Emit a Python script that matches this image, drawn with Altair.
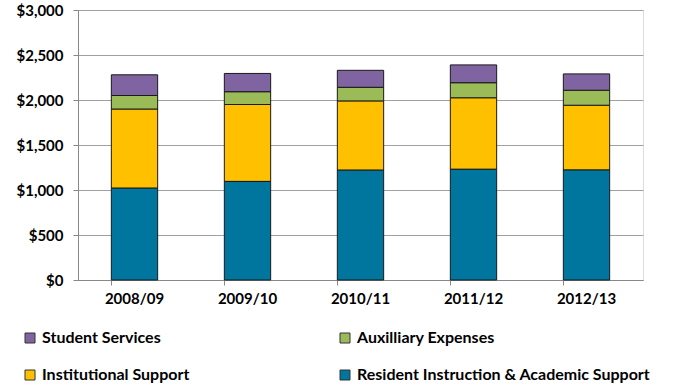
import altair as alt
import pandas as pd

years = ["2008/09", "2009/10", "2010/11", "2011/12", "2012/13"]
series = ["Student Services", "Institutional Support", "Auxilliary Expenses",
          "Resident Instruction & Academic Support"]
student_services = [230, 205, 190, 200, 183]
auxilliary_expenses = [150, 140, 150, 165, 165]
institutional_support = [880, 855, 770, 795, 720]
resident_instruction = [1020, 1095, 1220, 1230, 1222]
colors = ["#8064A2", "#FFC000", "#9BBB59", "#00759E"]
stack_rank = [3, 1, 2, 0]
y_ticks = [0, 500, 1000, 1500, 2000, 2500, 3000]

values = [student_services, institutional_support, auxilliary_expenses, resident_instruction]
rows = []
for s, vals, rank in zip(series, values, stack_rank):
    for yr, v in zip(years, vals):
        rows.append({"year": yr, "series": s, "value": v, "rank": rank})
df = pd.DataFrame(rows)

FONT = "Lato"

chart = alt.Chart(df).mark_bar(stroke="#1a1a1a", strokeWidth=1).encode(
    x=alt.X("year:N", sort=years, title=None,
            scale=alt.Scale(paddingInner=0.59, paddingOuter=0.295),
            axis=alt.Axis(labelAngle=0, bandPosition=0, ticks=True, tickSize=5,
                          tickColor="#888888", domainColor="#888888",
                          labelFont=FONT, labelFontSize=15, labelFontWeight="bold",
                          labelColor="#000000", labelPadding=6)),
    y=alt.Y("value:Q", stack="zero", title=None,
            scale=alt.Scale(domain=[0, 3000], nice=False),
            axis=alt.Axis(values=y_ticks, format="$,.0f", tickSize=5,
                          tickColor="#888888", domainColor="#888888",
                          gridColor="#A0A0A0", gridWidth=1,
                          labelFont=FONT, labelFontSize=15, labelFontWeight="bold",
                          labelColor="#000000", labelPadding=10)),
    color=alt.Color("series:N", title=None,
                    scale=alt.Scale(domain=series, range=colors),
                    legend=alt.Legend(orient="none", legendX=-56, legendY=320,
                                      columns=2, columnPadding=147, rowPadding=21,
                                      symbolType="square", symbolSize=100,
                                      symbolStrokeColor="#333333", symbolStrokeWidth=1,
                                      labelFont=FONT, labelFontSize=16,
                                      labelFontWeight="bold", labelColor="#000000",
                                      labelLimit=400)),
    order=alt.Order("rank:Q", sort="ascending"),
).properties(
    width=565, height=270,
    padding={"left": 78, "top": 10, "right": 32, "bottom": 106},
    autosize=alt.AutoSizeParams(type="none"),
).configure_view(stroke="#000000", strokeWidth=1).configure(background="white")

chart.save("out.html", embed_options={"renderer": "svg", "actions": False})
